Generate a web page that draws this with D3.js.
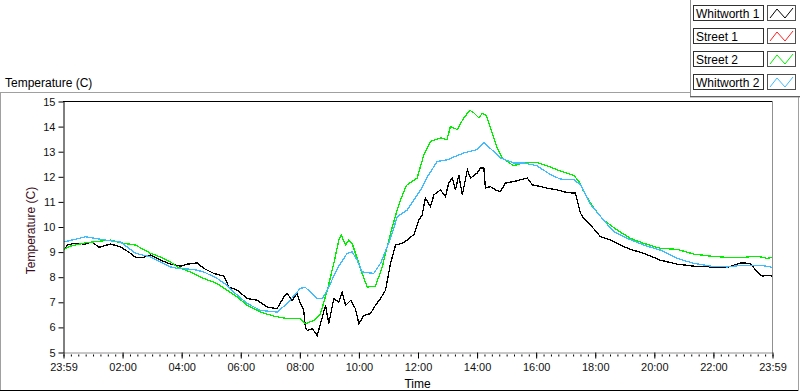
<!DOCTYPE html>
<html>
<head>
<meta charset="utf-8">
<script src="https://cdn.jsdelivr.net/npm/d3@7.9.0/dist/d3.min.js"></script>
<style>
  body { margin: 0; background: #fff; }
  svg { display: block; font-family: "Liberation Sans", Arial, sans-serif; }
</style>
</head>
<body>
<svg id="chart" width="800" height="392"></svg>
<script>
// --- data (hours since 23:59 of the previous day, temperature in C) ---
const seriesNames = ['Whitworth 1', 'Street 1', 'Street 2', 'Whitworth 2'];
const seriesColors = ['#000000', '#ff2020', '#00f000', '#40bcff'];

const hoursW1 = [0, 0.125, 0.35, 0.745, 0.97, 1.195, 1.59, 1.93, 2.27, 2.44, 2.72, 2.945, 3.28, 3.62,
  3.96, 4.19, 4.525, 4.75, 5.09, 5.43, 5.6, 5.88, 6.22, 6.56, 6.895, 7.23, 7.46, 7.57, 7.74, 7.91,
  8.02, 8.13, 8.19, 8.25, 8.42, 8.59, 8.7, 8.87, 8.98, 9.15, 9.32, 9.43, 9.55, 9.72, 9.88, 10.0,
  10.17, 10.39, 10.56, 10.73, 10.9, 11.07, 11.24, 11.47, 11.63, 11.86, 12.03, 12.14, 12.25, 12.42,
  12.54, 12.76, 12.93, 13.04, 13.16, 13.27, 13.38, 13.5, 13.67, 13.78, 14.0, 14.12, 14.23, 14.28,
  14.45, 14.62, 14.79, 14.96, 15.24, 15.47, 15.7, 15.87, 16.15, 16.37, 16.71, 17.05, 17.33, 17.5,
  17.61, 17.84, 18.18, 18.52, 18.85, 19.19, 19.64, 20.2, 20.77, 21.34, 21.9, 22.47, 22.69, 22.92,
  23.25, 23.48, 23.65, 23.82, 24];
const tempsW1 = [9.05, 9.28, 9.35, 9.32, 9.41, 9.19, 9.32, 9.21, 8.95, 8.79, 8.79, 8.88, 8.68, 8.52,
  8.44, 8.52, 8.57, 8.35, 8.15, 8.04, 7.61, 7.48, 7.15, 7.08, 6.81, 6.75, 7.21, 7.35, 7.08, 7.35,
  6.95, 6.68, 6.01, 5.88, 5.95, 5.68, 6.15, 6.88, 6.15, 7.15, 7.01, 7.41, 6.88, 7.08, 6.75, 6.15,
  6.48, 6.55, 6.88, 7.15, 7.48, 8.55, 9.28, 9.35, 9.48, 9.7, 10.28, 10.48, 11.15, 10.81,
  11.28, 11.48, 11.21, 11.75, 11.95, 11.48, 12.08, 11.28, 12.28, 11.95, 12.15, 12.35, 12.35, 11.55,
  11.61, 11.48, 11.41, 11.75, 11.81, 11.88, 11.95, 11.68, 11.61, 11.55, 11.48, 11.37, 11.35, 10.55,
  10.35, 10.08, 9.61, 9.48, 9.28, 9.11, 8.95, 8.68, 8.52, 8.44, 8.41, 8.39, 8.48, 8.57,
  8.55, 8.21, 8.04, 8.08, 8.04];

const hoursS1 = [];
const tempsS1 = [];

const hoursS2 = [0, 0.235, 0.745, 1.59, 1.93, 2.44, 2.945, 3.28, 3.62, 3.85, 4.41, 4.75, 5.2, 5.54,
  5.88, 6.22, 6.67, 7.12, 7.57, 8.02, 8.19, 8.47, 8.7, 8.93, 9.15, 9.32, 9.4, 9.55, 9.66, 9.77,
  9.94, 10.11, 10.28, 10.56, 10.79, 11.07, 11.3, 11.41, 11.6, 11.97, 12.2, 12.42, 12.76, 12.98,
  13.1, 13.33, 13.55, 13.76, 13.89, 14.06, 14.17, 14.32, 14.45, 14.68, 14.85, 15.02, 15.24, 15.58,
  16.03, 16.37, 16.71, 17.28, 17.45, 17.61, 17.95, 18.28, 18.74, 19.19, 19.64, 20.2, 20.77, 21.34,
  21.9, 22.47, 23.03, 23.48, 23.82, 24];
const tempsS2 = [9.1, 9.24, 9.37, 9.48, 9.37, 9.28, 8.95, 8.81, 8.61, 8.41, 8.15, 7.95, 7.75, 7.48,
  7.21, 6.88, 6.61, 6.45, 6.35, 6.35, 6.15, 6.28, 6.55, 7.48, 8.55, 9.48, 9.68, 9.28, 9.48, 9.35,
  8.75, 8.15, 7.61, 7.64, 8.41, 9.75, 10.7, 11.08, 11.65, 11.95, 12.88, 13.41, 13.55, 13.48,
  14.01, 13.88, 14.35, 14.65, 14.55, 14.35, 14.52, 14.44, 13.95, 13.15, 12.75, 12.61, 12.44, 12.57,
  12.57, 12.44, 12.28, 12.05, 11.81, 11.41, 10.75, 10.28, 9.88, 9.55, 9.35, 9.15, 9.11, 8.92,
  8.84, 8.79, 8.79, 8.84, 8.75, 8.79];

const hoursW2 = [0, 0.745, 1.59, 1.93, 2.44, 2.95, 3.28, 3.62, 3.85, 4.41, 4.75, 5.2, 5.54, 5.76,
  6.22, 6.67, 7.23, 7.57, 8.02, 8.19, 8.59, 8.76, 8.93, 9.27, 9.6, 9.77, 9.94, 10.11, 10.5, 10.73,
  11.07, 11.3, 11.64, 11.86, 12.09, 12.32, 12.65, 12.99, 13.55, 14.0, 14.23, 14.56, 14.79, 15.24,
  15.58, 16.03, 16.49, 16.82, 17.28, 17.5, 17.84, 18.28, 18.63, 19.08, 19.64, 20.2, 20.77, 21.34,
  21.9, 22.47, 23.03, 23.6, 24];
const tempsW2 = [9.4, 9.61, 9.45, 9.4, 8.95, 8.81, 8.61, 8.41, 8.35, 8.31, 8.21, 7.95, 7.68, 7.41,
  6.95, 6.68, 6.61, 6.95, 7.56, 7.59, 7.15, 7.15, 7.48, 8.35, 8.95, 9.01, 8.68, 8.21, 8.15, 8.55,
  9.55, 10.41, 10.68, 11.08, 11.48, 12.0, 12.61, 12.68, 12.95, 13.08, 13.37, 13.01, 12.75, 12.55,
  12.55, 12.44, 12.08, 11.91, 11.88, 11.68, 10.9, 10.28, 9.81, 9.55, 9.28, 9.08, 8.75, 8.55,
  8.44, 8.41, 8.48, 8.48, 8.39];

const yTicks = [5, 6, 7, 8, 9, 10, 11, 12, 13, 14, 15];
const xTicks = [0, 2, 4, 6, 8, 10, 12, 14, 16, 18, 20, 22, 24];
const xTickLabels = ['23:59', '02:00', '04:00', '06:00', '08:00', '10:00', '12:00',
  '14:00', '16:00', '18:00', '20:00', '22:00', '23:59'];

// --- layout ---
const plot = { left: 63, right: 772, top: 101, bottom: 352 };

const svg = d3.select('#chart');

const series = [
  [hoursW1, tempsW1], [hoursS1, tempsS1], [hoursS2, tempsS2], [hoursW2, tempsW2]
].map(([hs, ts], i) => ({
  name: seriesNames[i],
  color: seriesColors[i],
  points: hs.map((h, j) => ({ h, t: ts[j] })),
}));

const x = d3.scaleLinear().domain([0, 24]).range([plot.left + 0.5, plot.right + 0.5]);
const y = d3.scaleLinear().domain([5, 15]).range([plot.bottom + 0.5, plot.top + 0.5]);

// outer frame
svg.append('line').attr('x1', 0).attr('x2', 690).attr('y1', 92.5).attr('y2', 92.5).attr('stroke', '#a0a0a0');
svg.append('line').attr('x1', 0.5).attr('x2', 0.5).attr('y1', 92).attr('y2', 391).attr('stroke', '#a0a0a0');
svg.append('line').attr('x1', 0).attr('x2', 799).attr('y1', 390.5).attr('y2', 390.5).attr('stroke', '#000');
svg.append('line').attr('x1', 798.5).attr('x2', 798.5).attr('y1', 97).attr('y2', 391).attr('stroke', '#a0a0a0');

svg.append('text')
  .attr('x', 5).attr('y', 87)
  .attr('font-size', 12).attr('fill', '#000')
  .text('Temperature (C)');

// plot border (top black, right grey)
svg.append('line').attr('x1', plot.left).attr('x2', plot.right + 1)
  .attr('y1', plot.top + 0.5).attr('y2', plot.top + 0.5).attr('stroke', '#000');
svg.append('line').attr('x1', plot.right + 0.5).attr('x2', plot.right + 0.5)
  .attr('y1', plot.top).attr('y2', plot.bottom + 1).attr('stroke', '#909090');

// lines
svg.append('clipPath').attr('id', 'clip')
  .append('rect').attr('x', plot.left + 1).attr('y', plot.top + 1)
  .attr('width', plot.right - plot.left - 1).attr('height', plot.bottom - plot.top - 1);

const line = d3.line().x(d => x(d.h)).y(d => y(d.t));

svg.append('g').attr('clip-path', 'url(#clip)')
  .selectAll('path')
  .data(series.filter(s => s.points.length))
  .join('path')
  .attr('d', d => line(d.points))
  .attr('fill', 'none')
  .attr('stroke', d => d.color)
  .attr('stroke-width', 1.3)
  .attr('shape-rendering', 'crispEdges')
  .attr('stroke-linejoin', 'miter');

// y axis
const yAxis = svg.append('g')
  .attr('transform', `translate(${plot.left + 0.5},0)`)
  .call(d3.axisLeft(y).tickValues(yTicks).tickSize(5).tickPadding(3).tickSizeOuter(0));
yAxis.select('.domain').attr('stroke', '#000');
yAxis.selectAll('.tick line').attr('stroke', '#000');
yAxis.selectAll('text').attr('font-size', 11).attr('fill', '#111')
  .attr('font-family', '"Liberation Sans", Arial, sans-serif');

// x axis minor ticks every 15 minutes
const minorTicks = d3.range(0, 24.01, 0.25);
const xMinor = svg.append('g')
  .attr('transform', `translate(0,${plot.bottom + 2.5})`)
  .call(d3.axisBottom(x).tickValues(minorTicks).tickSize(2).tickFormat(''));
xMinor.select('.domain').remove();
xMinor.selectAll('.tick line').attr('stroke', '#000');

const xAxis = svg.append('g')
  .attr('transform', `translate(0,${plot.bottom + 0.5})`)
  .call(d3.axisBottom(x).tickValues(xTicks).tickSize(6).tickPadding(5).tickSizeOuter(0)
    .tickFormat((d, i) => xTickLabels[i]));
xAxis.select('.domain').attr('stroke', '#909090');
xAxis.selectAll('.tick line').attr('stroke', '#000');
xAxis.selectAll('text').attr('font-size', 11).attr('fill', '#111')
  .attr('font-family', '"Liberation Sans", Arial, sans-serif');

// axis titles
svg.append('text')
  .attr('x', (plot.left + plot.right) / 2).attr('y', 388)
  .attr('text-anchor', 'middle').attr('font-size', 12).attr('fill', '#000')
  .text('Time');

svg.append('text')
  .attr('transform', `translate(35,${(plot.top + plot.bottom) / 2 + 4}) rotate(-90)`)
  .attr('text-anchor', 'middle').attr('font-size', 12).attr('fill', '#3a0a20')
  .text('Temperature (C)');

// legend
const legend = svg.append('g');
legend.append('rect').attr('x', 690.5).attr('y', -1).attr('width', 112).attr('height', 98)
  .attr('fill', '#fff').attr('stroke', '#909090');
legend.append('line').attr('x1', 690).attr('x2', 800).attr('y1', 96.5).attr('y2', 96.5).attr('stroke', '#606060');

const swatch = d3.line();
const items = legend.selectAll('g.item')
  .data(series)
  .join('g')
  .attr('class', 'item')
  .attr('transform', (d, i) => `translate(0,${5 + i * 23})`);

items.append('rect')
  .attr('x', 693.5).attr('y', 0.5).attr('width', 70).attr('height', 15)
  .attr('fill', '#fff').attr('stroke', '#303030');
items.append('text')
  .attr('x', 696).attr('y', 12.5)
  .attr('font-size', 12).attr('fill', '#000')
  .text(d => d.name);
items.append('rect')
  .attr('x', 767.5).attr('y', 0.5).attr('width', 28).attr('height', 15)
  .attr('fill', '#fff').attr('stroke', '#505050');
items.append('path')
  .attr('d', swatch([[770, 13], [777, 4], [785, 13], [793, 3]]))
  .attr('fill', 'none')
  .attr('stroke', d => d.color);
</script>
</body>
</html>
